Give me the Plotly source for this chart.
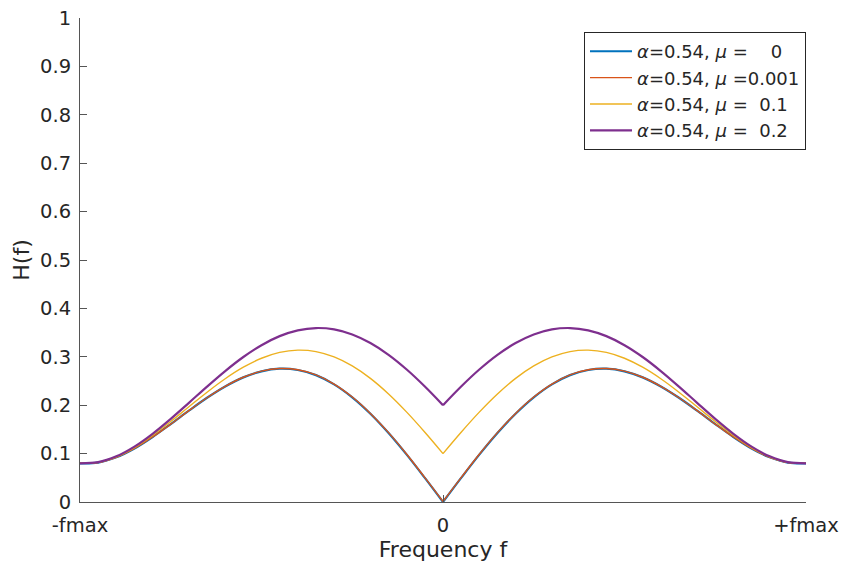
import plotly.graph_objects as go

# Normalised frequency grid from -fmax to +fmax
freq = [-1.0, -0.95, -0.9, -0.85, -0.8, -0.75, -0.7, -0.65, -0.6, -0.55, -0.5,
        -0.45, -0.4, -0.35, -0.3, -0.25, -0.2, -0.15, -0.1, -0.05, 0.0,
        0.05, 0.1, 0.15, 0.2, 0.25, 0.3, 0.35, 0.4, 0.45, 0.5,
        0.55, 0.6, 0.65, 0.7, 0.75, 0.8, 0.85, 0.9, 0.95, 1.0]

# Filter responses H(f) for each mu
h_mu_0 = [0.0800, 0.0814, 0.0923, 0.1106, 0.1343, 0.1610, 0.1887, 0.2153, 0.2387, 0.2575, 0.2700,
          0.2754, 0.2728, 0.2621, 0.2431, 0.2163, 0.1824, 0.1425, 0.0978, 0.0497, 0.0000,
          0.0497, 0.0978, 0.1425, 0.1824, 0.2163, 0.2431, 0.2621, 0.2728, 0.2754, 0.2700,
          0.2575, 0.2387, 0.2153, 0.1887, 0.1610, 0.1343, 0.1106, 0.0923, 0.0814, 0.0800]

h_mu_0001 = [0.0800, 0.0814, 0.0923, 0.1106, 0.1343, 0.1610, 0.1888, 0.2154, 0.2389, 0.2577, 0.2703,
             0.2757, 0.2732, 0.2626, 0.2437, 0.2169, 0.1831, 0.1433, 0.0986, 0.0504, 0.0010,
             0.0504, 0.0986, 0.1433, 0.1831, 0.2169, 0.2437, 0.2626, 0.2732, 0.2757, 0.2703,
             0.2577, 0.2389, 0.2154, 0.1888, 0.1610, 0.1343, 0.1106, 0.0923, 0.0814, 0.0800]

h_mu_01 = [0.0800, 0.0818, 0.0933, 0.1125, 0.1377, 0.1664, 0.1968, 0.2269, 0.2547, 0.2785, 0.2970,
           0.3091, 0.3138, 0.3108, 0.2998, 0.2812, 0.2554, 0.2232, 0.1857, 0.1442, 0.1000,
           0.1442, 0.1857, 0.2232, 0.2554, 0.2812, 0.2998, 0.3108, 0.3138, 0.3091, 0.2970,
           0.2785, 0.2547, 0.2269, 0.1968, 0.1664, 0.1377, 0.1125, 0.0933, 0.0818, 0.0800]

h_mu_02 = [0.0800, 0.0823, 0.0943, 0.1145, 0.1410, 0.1718, 0.2049, 0.2385, 0.2706, 0.2996, 0.3240,
           0.3427, 0.3547, 0.3594, 0.3566, 0.3461, 0.3284, 0.3040, 0.2737, 0.2386, 0.2000,
           0.2386, 0.2737, 0.3040, 0.3284, 0.3461, 0.3566, 0.3594, 0.3547, 0.3427, 0.3240,
           0.2996, 0.2706, 0.2385, 0.2049, 0.1718, 0.1410, 0.1145, 0.0943, 0.0823, 0.0800]

series_names = ["α=0.54, μ =    0", "α=0.54, μ =0.001", "α=0.54, μ =  0.1", "α=0.54, μ =  0.2"]
series_values = [h_mu_0, h_mu_0001, h_mu_01, h_mu_02]
series_colors = ["#0072BD", "#D95319", "#EDB120", "#7E2F8E"]
series_widths = [2.2, 1.4, 1.4, 2.2]

x_tick_vals = [-1.0, 0.0, 1.0]
x_tick_text = ["-fmax", "0", "+fmax"]
y_tick_vals = [0, 0.1, 0.2, 0.3, 0.4, 0.5, 0.6, 0.7, 0.8, 0.9, 1.0]
y_tick_text = ["0", "0.1", "0.2", "0.3", "0.4", "0.5", "0.6", "0.7", "0.8", "0.9", "1"]

axis_color = "#555555"
text_color = "#262626"
font_family = "DejaVu Sans"


def legend_label(text):
    # keep the padding spaces and set the Greek symbols in italics
    return (text.replace(" ", "\u00a0")
                .replace("α", "<i>α</i>")
                .replace("μ", "<i>μ</i>"))


fig = go.Figure()
mid = freq.index(0.0)
for i, (name, vals, color, width) in enumerate(zip(series_names, series_values, series_colors, series_widths)):
    # each curve is drawn as two smooth halves so the cusp at f = 0 stays sharp
    for half, (xs, ys) in enumerate([(freq[:mid + 1], vals[:mid + 1]), (freq[mid:], vals[mid:])]):
        fig.add_trace(go.Scatter(
            x=xs, y=ys, mode="lines",
            name=legend_label(name),
            legendgroup=f"s{i}", showlegend=(half == 0),
            line=dict(color=color, width=width, shape="spline", smoothing=1.0),
        ))

fig.update_layout(
    width=843, height=563,
    margin=dict(l=80, r=37, t=18, b=61),
    paper_bgcolor="white", plot_bgcolor="white",
    font=dict(family=font_family, color=text_color, size=19),
    showlegend=True,
    legend=dict(
        x=1.0, xanchor="right", y=0.971, yanchor="top",
        bordercolor="#262626", borderwidth=1, bgcolor="white",
        font=dict(size=18, family=font_family, color=text_color),
        tracegroupgap=0, itemwidth=42,
    ),
    xaxis=dict(
        range=[-1, 1], tickvals=x_tick_vals, ticktext=x_tick_text,
        showline=True, linecolor=axis_color, linewidth=1, mirror=False,
        ticks="inside", ticklen=7, tickcolor=axis_color,
        showgrid=False, zeroline=False, ticklabelstandoff=6, automargin=False,
        title=dict(text="Frequency f", font=dict(size=22), standoff=4),
        tickfont=dict(size=19.5),
    ),
    yaxis=dict(
        range=[0, 1], tickvals=y_tick_vals, ticktext=y_tick_text,
        showline=True, linecolor=axis_color, linewidth=1, mirror=False,
        ticks="inside", ticklen=7, tickcolor=axis_color,
        showgrid=False, zeroline=False, ticklabelstandoff=4, automargin=False,
        title=dict(text="H(f)", font=dict(size=22), standoff=4),
        tickfont=dict(size=19.5),
    ),
)

fig.write_html("out.html")
